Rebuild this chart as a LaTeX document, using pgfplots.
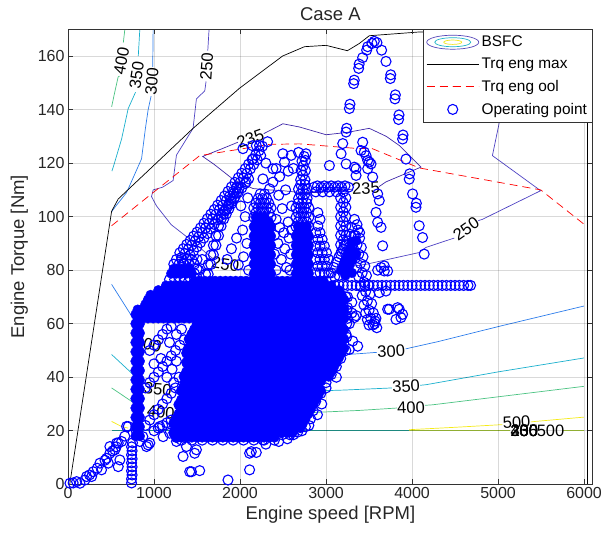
\documentclass[border=0pt]{standalone}
\usepackage{fontspec}
\setmainfont{Liberation Sans}
\usepackage{pgfplots}
\pgfplotsset{compat=1.18}
\definecolor{cA}{RGB}{62,38,168}
\definecolor{cB}{RGB}{78,66,195}
\definecolor{cC}{RGB}{45,125,235}
\definecolor{cD}{RGB}{25,175,205}
\definecolor{cE}{RGB}{75,195,130}
\definecolor{cF}{RGB}{245,235,25}
\definecolor{cG}{RGB}{35,160,150}
\definecolor{cH}{RGB}{170,205,60}
\definecolor{legP}{RGB}{85,70,185}
\definecolor{legC}{RGB}{30,180,200}
\definecolor{legY}{RGB}{240,230,30}
\tikzset{lab/.style={font=\fontsize{16.5bp}{18bp}\selectfont, inner sep=0pt, text=black}}
\begin{document}
\begin{tikzpicture}
\begin{axis}[
 name=ax,
 scale only axis, width=524.7bp, height=455bp,
 xmin=0, xmax=6100, ymin=0, ymax=170,
 xtick={0,1000,...,6000}, ytick={0,20,...,160},
 /pgf/number format/set thousands separator={},
 /pgf/number format/assume math mode=true,
 tick label style={font=\fontsize{16bp}{19bp}\selectfont, text=black!85},
 label style={font=\fontsize{18.5bp}{22bp}\selectfont, text=black!85},
 ylabel style={yshift=3bp},
 title style={font=\fontsize{18.5bp}{22bp}\selectfont, text=black!85, yshift=-1bp},
 title={Case A},
 xlabel={Engine speed [RPM]}, ylabel={Engine Torque [Nm]},
 axis on top,
 grid=major, major grid style={line width=0.6bp, draw=black, draw opacity=0.15},
 axis line style={line width=0.6bp, draw=black!80},
 tick style={line width=0.6bp, draw=black!80},
 major tick length=5bp, tick align=inside,
 legend style={at={(1,1)}, anchor=north east, font=\fontsize{15.4bp}{17bp}\selectfont,
   draw=black!80, line width=0.6bp, fill=white, inner xsep=3bp, inner ysep=1.5bp,
   row sep=0bp, nodes={inner ysep=5bp, inner xsep=2.5bp}},
 legend cell align=left,
 legend image code/.code={\draw[mark repeat=2,mark phase=2,#1] plot coordinates {(0bp,0bp) (26bp,0bp) (52bp,0bp)};},
]
% ---------- BSFC contours ----------
\addplot[cB, line width=0.7bp, legend image code/.code={
  \draw[legP, line width=0.7bp] (26bp,0bp) ellipse [x radius=26bp, y radius=7bp];
  \draw[legC, line width=0.7bp] (26bp,0bp) ellipse [x radius=18bp, y radius=4.5bp];
  \draw[legY, line width=0.7bp] (26bp,0bp) ellipse [x radius=9bp, y radius=2.2bp];}]
 coordinates {(1640,170)(1625,162)};
\addlegendentry{BSFC}
\addplot[cB, line width=0.7bp, forget plot] coordinates {(1605,150.5)(1590,147)(1493,144)(1454,133)(1261,123)(1222,113.5)(1100,111)(990,110)(971,107.5)(1029,104)(1200,97)(1415,91.6)(1647,85.3)(1700,84)};
\addplot[cB, line width=0.7bp, forget plot] coordinates {(1960,80)(2053,80.4)(2500,80)(3000,80)(3465,82.2)(4083,86.6)(4161,88.5)(4490,92)};
\addplot[cB, line width=0.7bp, forget plot] coordinates {(4770,98.5)(4818,99)(5495,109.7)(4934,122.8)(5031,137.8)(5060,150)(5100,170)};
\addplot[cA, line width=0.7bp, forget plot] coordinates {(1975,127.8)(1800,125.5)(1566,122.5)(1700,119.5)(1918,114)(2150,110.5)(2343,110)(2498,109.7)(2700,109)(2900,109)(3100,109.5)(3310,110.3)};
\addplot[cA, line width=0.7bp, forget plot] coordinates {(2275,131)(2498,134.7)(2691,133.5)(3001,130.6)(3250,131.5)(3503,133)(3700,130)(3851,126.6)(4103,118.5)(3697,113)(3615,111.2)};
\addplot[cC, line width=0.7bp, forget plot] coordinates {(990,170)(985,156)};
\addplot[cC, line width=0.7bp, forget plot] coordinates {(966,145)(932,140)(900,133)(855,121.6)(681,109)(545,103.5)(507,101.8)};
\addplot[cC, line width=0.7bp, forget plot] coordinates {(507,74.7)(777,61)(830,59)};
\addplot[cC, line width=0.7bp, forget plot] coordinates {(3250,48.5)(3425,48.9)(3590,49.3)};
\addplot[cC, line width=0.7bp, forget plot] coordinates {(3925,50.6)(4300,53.3)(5011,59)(5998,66.6)};
\addplot[cD, line width=0.7bp, forget plot] coordinates {(835,170)(817,160)};
\addplot[cD, line width=0.7bp, forget plot] coordinates {(785,146.5)(700,140.4)(623,129)(526,118.5)(510,117)};
\addplot[cD, line width=0.7bp, forget plot] coordinates {(507,48.5)(758,41)(830,39)};
\addplot[cD, line width=0.7bp, forget plot] coordinates {(2691,34.7)(3200,35.2)(3765,36)};
\addplot[cD, line width=0.7bp, forget plot] coordinates {(4095,37)(4161,37.2)(5000,42)(5998,47.2)};
\addplot[cE, line width=0.7bp, forget plot] coordinates {(661,170)(643,165)};
\addplot[cE, line width=0.7bp, forget plot] coordinates {(598,152.5)(583,152.2)(540,146)(507,141)};
\addplot[cE, line width=0.7bp, forget plot] coordinates {(507,36)(739,31)(800,30)};
\addplot[cE, line width=0.7bp, forget plot] coordinates {(2691,26.6)(3387,27.6)(3825,28.5)};
\addplot[cE, line width=0.7bp, forget plot] coordinates {(4150,29.5)(4238,29.7)(5998,36.6)};
\addplot[cG, line width=0.9bp, forget plot] coordinates {(507,20)(3967,20)};
\addplot[cH, line width=0.9bp, forget plot] coordinates {(3967,20)(5135,20)};
\addplot[cH, line width=0.9bp, forget plot] coordinates {(5742,20)(5998,20)};
\addplot[cF, line width=0.7bp, forget plot] coordinates {(507,23.5)(623,21.6)(700,21)};
\addplot[cF, line width=0.7bp, forget plot] coordinates {(3967,20.4)(4500,21.3)(5050,22.3)};
\addplot[cF, line width=0.7bp, forget plot] coordinates {(5380,23.3)(5437,23.5)(5998,25.1)};
% contour labels
\node[lab, rotate=80] at (axis cs:621,158) {400};
\node[lab, rotate=82] at (axis cs:799,153) {350};
\node[lab, rotate=85] at (axis cs:975,150.5) {300};
\node[lab, rotate=86] at (axis cs:1612,156) {250};
\node[lab, rotate=20] at (axis cs:2120,129.2) {235};
\node[lab, rotate=-9] at (axis cs:1830,82.2) {250};
\node[lab, rotate=3] at (axis cs:3463,110.5) {235};
\node[lab, rotate=35] at (axis cs:4628,95.4) {250};
\node[lab, rotate=3] at (axis cs:3757,49.7) {300};
\node[lab, rotate=3] at (axis cs:3930,36.6) {350};
\node[lab, rotate=2] at (axis cs:3988,28.7) {400};
\node[lab, rotate=3] at (axis cs:5215,23.2) {500};
\node[lab] at (axis cs:5305,20) {235};
\node[lab] at (axis cs:5305,20) {250};
\node[lab] at (axis cs:5305,20) {300};
\node[lab] at (axis cs:5305,20) {400};
\node[lab] at (axis cs:5610,20) {500};
\node[lab, rotate=-15] at (axis cs:930,52.5) {300};
\node[lab, rotate=-5] at (axis cs:1045,35.5) {350};
\node[lab, rotate=-5] at (axis cs:1080,27) {400};
\node[lab] at (axis cs:2440,19.8) {300};
% ---------- torque limits ----------
\addplot[black, line width=0.7bp] coordinates {(20,0)(507,102)(584,106.6)(1454,133)(1995,148)(2494,160)(2749,163.5)(3001,164)(3248,162)(3387,164.7)(3503,167.6)(4084,169)(6040,170)(6040,0)};
\addlegendentry{Trq eng max}
\addplot[red, line width=0.7bp, dash pattern=on 8bp off 5bp] coordinates {(507,96.6)(990,109)(1531,122.8)(2343,127)(2691,127.2)(3387,125.4)(3523,125.6)(4084,118.2)(5495,110)(5998,97.2)};
\addlegendentry{Trq eng ool}
% ---------- operating points: dense core (overlapping circles, drawn solid) ----------
\addplot[blue, only marks, mark=*, mark size=4.9bp, mark options={draw=blue, fill=blue}, forget plot] coordinates {
(1260,17.5)(1320,17.5)(1380,17.5)(1440,17.5)(1500,17.5)(1560,17.5)(1620,17.5)(1680,17.5)(1740,17.5)(1800,17.5)(1860,17.5)(1920,17.5)(1980,17.5)(2040,17.5)(2100,17.5)(2160,17.5)(2220,17.5)(2280,17.5)(2340,17.5)(2400,17.5)
(1230,19.25)(1290,19.25)(1350,19.25)(1410,19.25)(1470,19.25)(1530,19.25)(1590,19.25)(1650,19.25)(1710,19.25)(1770,19.25)(1830,19.25)(1890,19.25)(1950,19.25)(2010,19.25)(2070,19.25)(2130,19.25)(2190,19.25)(2250,19.25)(2310,19.25)(2370,19.25)(2430,19.25)(2490,19.25)(2550,19.25)(2610,19.25)
(1260,21)(1320,21)(1380,21)(1440,21)(1500,21)(1560,21)(1620,21)(1680,21)(1740,21)(1800,21)(1860,21)(1920,21)(1980,21)(2040,21)(2100,21)(2160,21)(2220,21)(2280,21)(2340,21)(2400,21)(2460,21)(2520,21)(2580,21)(2640,21)(2700,21)
(1230,22.75)(1290,22.75)(1350,22.75)(1410,22.75)(1470,22.75)(1530,22.75)(1590,22.75)(1650,22.75)(1710,22.75)(1770,22.75)(1830,22.75)(1890,22.75)(1950,22.75)(2010,22.75)(2070,22.75)(2130,22.75)(2190,22.75)(2250,22.75)(2310,22.75)(2370,22.75)(2430,22.75)(2490,22.75)(2550,22.75)(2610,22.75)(2670,22.75)(2730,22.75)
(1260,24.5)(1320,24.5)(1380,24.5)(1440,24.5)(1500,24.5)(1560,24.5)(1620,24.5)(1680,24.5)(1740,24.5)(1800,24.5)(1860,24.5)(1920,24.5)(1980,24.5)(2040,24.5)(2100,24.5)(2160,24.5)(2220,24.5)(2280,24.5)(2340,24.5)(2400,24.5)(2460,24.5)(2520,24.5)(2580,24.5)(2640,24.5)(2700,24.5)(2760,24.5)
(1290,26.25)(1350,26.25)(1410,26.25)(1470,26.25)(1530,26.25)(1590,26.25)(1650,26.25)(1710,26.25)(1770,26.25)(1830,26.25)(1890,26.25)(1950,26.25)(2010,26.25)(2070,26.25)(2130,26.25)(2190,26.25)(2250,26.25)(2310,26.25)(2370,26.25)(2430,26.25)(2490,26.25)(2550,26.25)(2610,26.25)(2670,26.25)(2730,26.25)(2790,26.25)
(1320,28)(1380,28)(1440,28)(1500,28)(1560,28)(1620,28)(1680,28)(1740,28)(1800,28)(1860,28)(1920,28)(1980,28)(2040,28)(2100,28)(2160,28)(2220,28)(2280,28)(2340,28)(2400,28)(2460,28)(2520,28)(2580,28)(2640,28)(2700,28)(2760,28)(2820,28)
(1290,29.75)(1350,29.75)(1410,29.75)(1470,29.75)(1530,29.75)(1590,29.75)(1650,29.75)(1710,29.75)(1770,29.75)(1830,29.75)(1890,29.75)(1950,29.75)(2010,29.75)(2070,29.75)(2130,29.75)(2190,29.75)(2250,29.75)(2310,29.75)(2370,29.75)(2430,29.75)(2490,29.75)(2550,29.75)(2610,29.75)(2670,29.75)(2730,29.75)(2790,29.75)(2850,29.75)
(1320,31.5)(1380,31.5)(1440,31.5)(1500,31.5)(1560,31.5)(1620,31.5)(1680,31.5)(1740,31.5)(1800,31.5)(1860,31.5)(1920,31.5)(1980,31.5)(2040,31.5)(2100,31.5)(2160,31.5)(2220,31.5)(2280,31.5)(2340,31.5)(2400,31.5)(2460,31.5)(2520,31.5)(2580,31.5)(2640,31.5)(2700,31.5)(2760,31.5)(2820,31.5)(2880,31.5)
(1350,33.25)(1410,33.25)(1470,33.25)(1530,33.25)(1590,33.25)(1650,33.25)(1710,33.25)(1770,33.25)(1830,33.25)(1890,33.25)(1950,33.25)(2010,33.25)(2070,33.25)(2130,33.25)(2190,33.25)(2250,33.25)(2310,33.25)(2370,33.25)(2430,33.25)(2490,33.25)(2550,33.25)(2610,33.25)(2670,33.25)(2730,33.25)(2790,33.25)(2850,33.25)(2910,33.25)
(1320,35)(1380,35)(1440,35)(1500,35)(1560,35)(1620,35)(1680,35)(1740,35)(1800,35)(1860,35)(1920,35)(1980,35)(2040,35)(2100,35)(2160,35)(2220,35)(2280,35)(2340,35)(2400,35)(2460,35)(2520,35)(2580,35)(2640,35)(2700,35)(2760,35)(2820,35)(2880,35)(2940,35)
(1350,36.75)(1410,36.75)(1470,36.75)(1530,36.75)(1590,36.75)(1650,36.75)(1710,36.75)(1770,36.75)(1830,36.75)(1890,36.75)(1950,36.75)(2010,36.75)(2070,36.75)(2130,36.75)(2190,36.75)(2250,36.75)(2310,36.75)(2370,36.75)(2430,36.75)(2490,36.75)(2550,36.75)(2610,36.75)(2670,36.75)(2730,36.75)(2790,36.75)(2850,36.75)(2910,36.75)
(1380,38.5)(1440,38.5)(1500,38.5)(1560,38.5)(1620,38.5)(1680,38.5)(1740,38.5)(1800,38.5)(1860,38.5)(1920,38.5)(1980,38.5)(2040,38.5)(2100,38.5)(2160,38.5)(2220,38.5)(2280,38.5)(2340,38.5)(2400,38.5)(2460,38.5)(2520,38.5)(2580,38.5)(2640,38.5)(2700,38.5)(2760,38.5)(2820,38.5)(2880,38.5)(2940,38.5)
(1350,40.25)(1410,40.25)(1470,40.25)(1530,40.25)(1590,40.25)(1650,40.25)(1710,40.25)(1770,40.25)(1830,40.25)(1890,40.25)(1950,40.25)(2010,40.25)(2070,40.25)(2130,40.25)(2190,40.25)(2250,40.25)(2310,40.25)(2370,40.25)(2430,40.25)(2490,40.25)(2550,40.25)(2610,40.25)(2670,40.25)(2730,40.25)(2790,40.25)(2850,40.25)(2910,40.25)(2970,40.25)(3030,40.25)
(1380,42)(1440,42)(1500,42)(1560,42)(1620,42)(1680,42)(1740,42)(1800,42)(1860,42)(1920,42)(1980,42)(2040,42)(2100,42)(2160,42)(2220,42)(2280,42)(2340,42)(2400,42)(2460,42)(2520,42)(2580,42)(2640,42)(2700,42)(2760,42)(2820,42)(2880,42)(2940,42)(3000,42)(3060,42)
(1410,43.75)(1470,43.75)(1530,43.75)(1590,43.75)(1650,43.75)(1710,43.75)(1770,43.75)(1830,43.75)(1890,43.75)(1950,43.75)(2010,43.75)(2070,43.75)(2130,43.75)(2190,43.75)(2250,43.75)(2310,43.75)(2370,43.75)(2430,43.75)(2490,43.75)(2550,43.75)(2610,43.75)(2670,43.75)(2730,43.75)(2790,43.75)(2850,43.75)(2910,43.75)(2970,43.75)(3030,43.75)(3090,43.75)
(1380,45.5)(1440,45.5)(1500,45.5)(1560,45.5)(1620,45.5)(1680,45.5)(1740,45.5)(1800,45.5)(1860,45.5)(1920,45.5)(1980,45.5)(2040,45.5)(2100,45.5)(2160,45.5)(2220,45.5)(2280,45.5)(2340,45.5)(2400,45.5)(2460,45.5)(2520,45.5)(2580,45.5)(2640,45.5)(2700,45.5)(2760,45.5)(2820,45.5)(2880,45.5)(2940,45.5)(3000,45.5)(3060,45.5)(3120,45.5)
(1410,47.25)(1470,47.25)(1530,47.25)(1590,47.25)(1650,47.25)(1710,47.25)(1770,47.25)(1830,47.25)(1890,47.25)(1950,47.25)(2010,47.25)(2070,47.25)(2130,47.25)(2190,47.25)(2250,47.25)(2310,47.25)(2370,47.25)(2430,47.25)(2490,47.25)(2550,47.25)(2610,47.25)(2670,47.25)(2730,47.25)(2790,47.25)(2850,47.25)(2910,47.25)(2970,47.25)(3030,47.25)(3090,47.25)(3150,47.25)
(1380,49)(1440,49)(1500,49)(1560,49)(1620,49)(1680,49)(1740,49)(1800,49)(1860,49)(1920,49)(1980,49)(2040,49)(2100,49)(2160,49)(2220,49)(2280,49)(2340,49)(2400,49)(2460,49)(2520,49)(2580,49)(2640,49)(2700,49)(2760,49)(2820,49)(2880,49)(2940,49)(3000,49)(3060,49)(3120,49)(3180,49)
(1410,50.75)(1470,50.75)(1530,50.75)(1590,50.75)(1650,50.75)(1710,50.75)(1770,50.75)(1830,50.75)(1890,50.75)(1950,50.75)(2010,50.75)(2070,50.75)(2130,50.75)(2190,50.75)(2250,50.75)(2310,50.75)(2370,50.75)(2430,50.75)(2490,50.75)(2550,50.75)(2610,50.75)(2670,50.75)(2730,50.75)(2790,50.75)(2850,50.75)(2910,50.75)(2970,50.75)(3030,50.75)(3090,50.75)(3150,50.75)(3210,50.75)
(1440,52.5)(1500,52.5)(1560,52.5)(1620,52.5)(1680,52.5)(1740,52.5)(1800,52.5)(1860,52.5)(1920,52.5)(1980,52.5)(2040,52.5)(2100,52.5)(2160,52.5)(2220,52.5)(2280,52.5)(2340,52.5)(2400,52.5)(2460,52.5)(2520,52.5)(2580,52.5)(2640,52.5)(2700,52.5)(2760,52.5)(2820,52.5)(2880,52.5)(2940,52.5)(3000,52.5)(3060,52.5)(3120,52.5)(3180,52.5)
(1410,54.25)(1470,54.25)(1530,54.25)(1590,54.25)(1650,54.25)(1710,54.25)(1770,54.25)(1830,54.25)(1890,54.25)(1950,54.25)(2010,54.25)(2070,54.25)(2130,54.25)(2190,54.25)(2250,54.25)(2310,54.25)(2370,54.25)(2430,54.25)(2490,54.25)(2550,54.25)(2610,54.25)(2670,54.25)(2730,54.25)(2790,54.25)(2850,54.25)(2910,54.25)(2970,54.25)(3030,54.25)(3090,54.25)(3150,54.25)(3210,54.25)
(1440,56)(1500,56)(1560,56)(1620,56)(1680,56)(1740,56)(1800,56)(1860,56)(1920,56)(1980,56)(2040,56)(2100,56)(2160,56)(2220,56)(2280,56)(2340,56)(2400,56)(2460,56)(2520,56)(2580,56)(2640,56)(2700,56)(2760,56)(2820,56)(2880,56)(2940,56)(3000,56)(3060,56)(3120,56)(3180,56)
(1470,57.75)(1530,57.75)(1590,57.75)(1650,57.75)(1710,57.75)(1770,57.75)(1830,57.75)(1890,57.75)(1950,57.75)(2010,57.75)(2070,57.75)(2130,57.75)(2190,57.75)(2250,57.75)(2310,57.75)(2370,57.75)(2430,57.75)(2490,57.75)(2550,57.75)(2610,57.75)(2670,57.75)(2730,57.75)(2790,57.75)(2850,57.75)(2910,57.75)(2970,57.75)(3030,57.75)(3090,57.75)(3150,57.75)(3210,57.75)
(1500,59.5)(1560,59.5)(1620,59.5)(1680,59.5)(1740,59.5)(1800,59.5)(1860,59.5)(1920,59.5)(1980,59.5)(2040,59.5)(2100,59.5)(2160,59.5)(2220,59.5)(2280,59.5)(2340,59.5)(2400,59.5)(2460,59.5)(2520,59.5)(2580,59.5)(2640,59.5)(2700,59.5)(2760,59.5)(2820,59.5)(2880,59.5)(2940,59.5)(3000,59.5)(3060,59.5)(3120,59.5)(3180,59.5)
(870,62)(930,62)(990,62)(1050,62)(1110,62)(1170,62)(1230,62)(1290,62)(1350,62)(1410,62)(1470,62)(1530,62)(1590,62)(1650,62)(1710,62)(1770,62)(1830,62)(1890,62)(1950,62)(2010,62)(2070,62)(2130,62)(2190,62)(2250,62)(2310,62)(2370,62)(2430,62)(2490,62)(2550,62)(2610,62)(2670,62)(2730,62)(2790,62)(2850,62)(2910,62)(2970,62)(3030,62)(3090,62)(3150,62)(3210,62)
(900,63.75)(960,63.75)(1020,63.75)(1080,63.75)(1140,63.75)(1200,63.75)(1260,63.75)(1320,63.75)(1380,63.75)(1440,63.75)(1500,63.75)(1560,63.75)(1620,63.75)(1680,63.75)(1740,63.75)(1800,63.75)(1860,63.75)(1920,63.75)(1980,63.75)(2040,63.75)(2100,63.75)(2160,63.75)(2220,63.75)(2280,63.75)(2340,63.75)(2400,63.75)(2460,63.75)(2520,63.75)(2580,63.75)(2640,63.75)(2700,63.75)(2760,63.75)(2820,63.75)(2880,63.75)(2940,63.75)(3000,63.75)(3060,63.75)(3120,63.75)(3180,63.75)
(870,65.5)(930,65.5)(990,65.5)(1050,65.5)(1110,65.5)(1170,65.5)(1230,65.5)(1290,65.5)(1350,65.5)(1410,65.5)(1470,65.5)(1530,65.5)(1590,65.5)(1650,65.5)(1710,65.5)(1770,65.5)(1830,65.5)(1890,65.5)(1950,65.5)(2010,65.5)(2070,65.5)(2130,65.5)(2190,65.5)(2250,65.5)(2310,65.5)(2370,65.5)(2430,65.5)(2490,65.5)(2550,65.5)(2610,65.5)(2670,65.5)(2730,65.5)(2790,65.5)(2850,65.5)(2910,65.5)(2970,65.5)(3030,65.5)(3090,65.5)(3150,65.5)(3210,65.5)
(900,67.25)(960,67.25)(1020,67.25)(1080,67.25)(1140,67.25)(1200,67.25)(1260,67.25)(1320,67.25)(1380,67.25)(1440,67.25)(1500,67.25)(1560,67.25)(1620,67.25)(1680,67.25)(1740,67.25)(1800,67.25)(1860,67.25)(1920,67.25)(1980,67.25)(2040,67.25)(2100,67.25)(2160,67.25)(2220,67.25)(2280,67.25)(2340,67.25)(2400,67.25)(2460,67.25)(2520,67.25)(2580,67.25)(2640,67.25)(2700,67.25)(2760,67.25)(2820,67.25)(2880,67.25)(2940,67.25)(3000,67.25)(3060,67.25)(3120,67.25)(3180,67.25)
(930,69)(990,69)(1050,69)(1110,69)(1170,69)(1230,69)(1290,69)(1350,69)(1410,69)(1470,69)(1530,69)(1590,69)(1650,69)(1710,69)(1770,69)(1830,69)(1890,69)(1950,69)(2010,69)(2070,69)(2130,69)(2190,69)(2250,69)(2310,69)(2370,69)(2430,69)(2490,69)(2550,69)(2610,69)(2670,69)(2730,69)(2790,69)(2850,69)(2910,69)(2970,69)(3030,69)(3090,69)(3150,69)(3210,69)
(960,70.75)(1020,70.75)(1080,70.75)(1140,70.75)(1200,70.75)(1260,70.75)(1320,70.75)(1380,70.75)(1440,70.75)(1500,70.75)(1560,70.75)(1620,70.75)(1680,70.75)(1740,70.75)(1800,70.75)(1860,70.75)(1920,70.75)(1980,70.75)(2040,70.75)(2100,70.75)(2160,70.75)(2220,70.75)(2280,70.75)(2340,70.75)(2400,70.75)(2460,70.75)(2520,70.75)(2580,70.75)(2640,70.75)(2700,70.75)(2760,70.75)(2820,70.75)(2880,70.75)(2940,70.75)(3000,70.75)(3060,70.75)(3120,70.75)(3180,70.75)
(1050,72.5)(1110,72.5)(1170,72.5)(1230,72.5)(1290,72.5)(1350,72.5)(1410,72.5)(1470,72.5)(1530,72.5)(1590,72.5)(1650,72.5)(1710,72.5)(1770,72.5)(1830,72.5)(1890,72.5)(1950,72.5)(2010,72.5)(2070,72.5)(2130,72.5)(2190,72.5)(2250,72.5)(2310,72.5)(2370,72.5)(2430,72.5)(2490,72.5)(2550,72.5)(2610,72.5)(2670,72.5)(2730,72.5)(2790,72.5)(2850,72.5)(2910,72.5)(2970,72.5)(3030,72.5)(3090,72.5)(3150,72.5)
(1140,74.25)(1200,74.25)(1260,74.25)(1320,74.25)(1380,74.25)(1440,74.25)(1500,74.25)(1560,74.25)(1620,74.25)(1680,74.25)(1740,74.25)(1800,74.25)(1860,74.25)(1920,74.25)(1980,74.25)(2040,74.25)(2100,74.25)(2160,74.25)(2220,74.25)(2280,74.25)(2340,74.25)(2400,74.25)(2460,74.25)(2520,74.25)(2580,74.25)(2640,74.25)(2700,74.25)(2760,74.25)(2820,74.25)(2880,74.25)(2940,74.25)(3000,74.25)(3060,74.25)
(1470,76)(1530,76)(1590,76)(1650,76)(1710,76)(1770,76)(1830,76)(1890,76)(1950,76)(2010,76)(2070,76)(2130,76)(2190,76)(2250,76)(2310,76)(2370,76)(2430,76)(2490,76)(2550,76)(2610,76)(2670,76)(2730,76)(2790,76)(2850,76)(2910,76)(2970,76)
(785,18)(835,18)(810,19.75)(785,21.5)(835,21.5)(810,23.25)(785,25)(835,25)(810,26.75)(785,28.5)(835,28.5)(810,30.25)(785,32)(835,32)(810,33.75)(785,35.5)(835,35.5)(810,37.25)(785,39)(835,39)(810,40.75)(785,42.5)(835,42.5)(810,44.25)(785,46)(835,46)(810,47.75)(785,49.5)(835,49.5)(810,51.25)(785,53)(835,53)(810,54.75)(785,56.5)(835,56.5)(810,58.25)(785,60)(835,60)(810,61.75)(785,63.5)(835,63.5)(810,65.25)
(2160,78.75)(2210,78.75)(2260,78.75)(2310,78.75)(2360,78.75)(2185,80.5)(2235,80.5)(2285,80.5)(2335,80.5)(2160,82.25)(2210,82.25)(2260,82.25)(2310,82.25)(2360,82.25)(2185,84)(2235,84)(2285,84)(2335,84)(2160,85.75)(2210,85.75)(2260,85.75)(2310,85.75)(2360,85.75)(2185,87.5)(2235,87.5)(2285,87.5)(2335,87.5)(2160,89.25)(2210,89.25)(2260,89.25)(2310,89.25)(2360,89.25)(2185,91)(2235,91)(2285,91)(2335,91)(2160,92.75)(2210,92.75)(2260,92.75)(2310,92.75)(2360,92.75)(2185,94.5)(2235,94.5)(2285,94.5)(2335,94.5)(2160,96.25)(2210,96.25)(2260,96.25)(2310,96.25)(2360,96.25)(2185,98)(2235,98)(2285,98)(2335,98)(2185,99.75)(2235,99.75)(2285,99.75)
(2650,78.75)(2700,78.75)(2750,78.75)(2800,78.75)(2675,80.5)(2725,80.5)(2775,80.5)(2650,82.25)(2700,82.25)(2750,82.25)(2800,82.25)(2675,84)(2725,84)(2775,84)(2650,85.75)(2700,85.75)(2750,85.75)(2800,85.75)(2675,87.5)(2725,87.5)(2775,87.5)(2650,89.25)(2700,89.25)(2750,89.25)(2800,89.25)(2675,91)(2725,91)(2775,91)(2650,92.75)(2700,92.75)(2750,92.75)(2800,92.75)(2675,94.5)(2725,94.5)(2775,94.5)(2675,96.25)(2725,96.25)(2775,96.25)
(1200,78.75)(1260,78.75)(1320,78.75)(1380,78.75)(1440,78.75)(1230,80.5)(1290,80.5)(1350,80.5)(1410,80.5)
(3300,90)(3350,91)(3250,86)(3300,84)(3350,86)(3200,82)(3250,80)(3300,79)(3275,88)(3225,84)(3275,82)(3325,87)(3175,80)(3225,78)
};
% ---------- operating points (legend) ----------
\addplot[blue, only marks, mark=o, mark size=5bp, line width=1.1bp, mark options={line width=1.1bp}] coordinates {
(23,0.4)(60,0.5)(100,1)(139,0.4)(197,1.6)(216,2.9)(250,3.5)(275,2.9)(293,4.7)(340,6)(371,7.9)(390,5.4)(430,9)(449,9.7)(468,7.9)(487,11.6)(487,14.1)(520,12.5)(545,12.9)(560,14)(565,15.4)(584,15.4)(584,6.6)(603,9.1)(623,16)(660,18)(681,21.6)(700,21.6)(797,19.7)(835,16)(870,17.8)(913,14.1)(932,14.7)(951,15.4)(1067,21.6)(1106,17.8)(1183,19.1)(1261,16)(1338,10.4)(1377,14.1)(1415,4.7)(1435,4.7)(1473,11.6)(1493,12.9)(1531,5.1)(1860,1.6)(2111,5.4)(2111,11.6)(2131,12.2)(2189,11.9)(2265,16.6)(2300,15)(2450,16)(2550,17)(2620,18.5)(2720,20)(2800,22)
(739,0.5)(739,2)(745,3.5)(739,5)(745,6.5)(739,8)(745,9.5)(739,11)(745,12.5)(739,14)(750,15.5)
(900,22)(950,24)(1000,26)(1050,28)(1100,30)(1150,32)(1200,34)(1250,36)
(900,36)(950,38)(1000,40)(1050,42)(1100,44)(1150,46)(1200,48)(1250,50)(1300,52)(1350,54)
(950,50)(1000,52)(1050,54)(1100,56)(1150,58)(1200,59)
(1000,20)(1050,21)(1100,22)(1150,23)(1200,24)
(1000,45)(1080,47)(1150,40)(1210,43)(1260,46)(1290,40)(1230,38)(1180,53)(1260,56)(1320,58)
(1260,17.5)(1230,19.25)(1230,22.75)(1260,24.5)(1290,26.25)(1320,28)(1290,29.75)(1320,31.5)(1350,33.25)(1320,35)(1350,36.75)(1380,38.5)(1350,40.25)(1380,42)(1410,43.75)(1380,45.5)(1410,47.25)(1380,49)(1410,50.75)(1440,52.5)(1410,54.25)(1440,56)(1470,57.75)(1500,59.5)
(1320,16.5)(1440,16.5)(1560,16.5)(1680,16.5)(1800,16.5)(1920,16.5)(2040,16.5)(2160,16.5)(2280,16.5)(2400,16.5)(2490,18.5)(2580,18.5)(2670,19.5)(2760,21.5)(2820,24.5)(2850,27.5)(2880,31)(2940,34)(3000,38)(3060,41)(3120,44)(3170,47)(3230,50)(3240,55)(3240,60)(3240,65)(3230,70)
(1230,82.25)(1290,82.25)(1350,82.25)(1410,82.25)(1470,82.25)(1260,84)(1320,84)(1380,84)(1440,84)(1500,84)(1470,78.75)(1500,80.5)
(1300,86.5)(1340,88)(1380,89.6)(1420,91.1)(1460,92.7)(1500,94.2)(1540,95.8)(1580,97.5)(1620,99.2)(1660,100.9)(1700,102.6)(1740,104.3)(1780,106)(1820,107.7)(1860,109.4)(1900,111.1)(1940,112.8)(1980,114.5)(2020,116.2)(2060,117.9)(2100,119.6)(2140,121.3)(2180,123)(2220,124.6)(2260,126.3)
(1320,84.75)(1360,86.25)(1400,87.85)(1440,89.35)(1480,90.95)(1520,92.45)(1560,94.05)(1600,95.75)(1640,97.45)(1680,99.15)(1720,100.85)(1760,102.55)(1800,104.25)(1840,105.95)(1880,107.65)(1920,109.35)(1960,111.05)(2000,112.75)(2040,114.45)(2080,116.15)(2120,117.85)(2160,119.55)(2200,121.25)(2240,122.85)
(1340,82.5)(1380,84.1)(1420,85.6)(1460,87.2)(1500,88.7)(1540,90.3)(1580,92)(1620,93.7)(1660,95.4)(1700,97.1)(1740,98.8)(1780,100.5)(1820,102.2)(1860,103.9)(1900,105.6)(1940,107.3)(1980,109)(2020,110.7)(2060,112.4)(2100,114.1)
(1600,78.5)(1630,82.1)(1660,85.7)(1690,89.3)(1720,92.9)(1750,96.5)(1780,99.1)(1810,101)(1840,102.9)(1870,104.8)(1900,106.8)(1930,108.7)(1960,110.6)
(1630,78.5)(1660,82.1)(1690,85.7)(1720,89.3)(1750,92.9)(1780,96.5)(1810,99.1)(1840,101)(1870,102.9)(1900,104.8)(1930,106.8)(1960,108.7)(1990,110.6)
(2160,99.75)(2360,99.75)(2185,101.5)(2235,101.5)(2285,101.5)(2335,101.5)(2160,103.25)(2210,103.25)(2260,103.25)(2310,103.25)(2360,103.25)(2185,105)(2235,105)(2285,105)(2335,105)(2210,106.75)(2260,106.75)(2310,106.75)(2235,108.5)(2285,108.5)
(2650,96.25)(2800,96.25)(2675,98)(2725,98)(2775,98)(2650,99.75)(2700,99.75)(2750,99.75)(2800,99.75)(2675,101.5)(2725,101.5)(2775,101.5)(2650,103.25)(2700,103.25)(2750,103.25)(2800,103.25)(2675,105)(2725,105)(2775,105)(2680,106.75)(2730,106.75)(2780,106.75)(2705,108.5)(2755,108.5)(2680,110.25)(2730,110.25)(2780,110.25)(2705,112)(2755,112)(2705,113.75)(2755,113.75)(2730,115.5)(2710,117.25)(2760,117.25)(2735,119)(2720,120.75)(2760,121)(2745,122.5)(2767,123.5)
(2420,80)(2480,84)(2540,81)(2590,86)(2440,90)(2510,94)(2570,92)(2420,99)(2490,103)(2560,98)(2450,108)(2530,110)(2600,104)(2400,86)(2460,96)(2580,80)(2520,88)(2400,93)(2600,95)
(2860,111)(2900,111.5)(2940,111)(2980,111.5)(3020,111)(3060,111.5)(3100,111)(3140,111.5)(3180,111)(3220,111.5)(3260,111)(2880,109.25)(2960,109.25)(3040,109.25)(3120,109.25)(3200,109.25)
(3170,86)(3230,86)(3200,87.75)(3170,89.5)(3230,89.5)(3200,91.25)(3170,93)(3230,93)(3200,94.75)(3170,96.5)(3230,96.5)(3200,98.25)(3170,100)(3230,100)(3200,101.75)(3170,103.5)(3230,103.5)(3200,105.25)(3170,107)(3230,107)
(2880,79)(2930,79)(2980,79)(3030,79)(2905,81.5)(2955,81.5)(3005,81.5)(2880,84)(2930,84)(2980,84)(3030,84)(2905,86.5)(2955,86.5)(3005,86.5)(2880,89)(2930,89)(2980,89)(2905,91.5)(2955,91.5)(2880,94)(2930,94)(2905,96.5)(2930,99)(2905,101.5)
(3330,99)(3360,97)(3300,96)(3390,94)(3270,93.5)(3240,91)(3210,89)(3180,87)(3150,85)(3120,83)(3090,81)(3060,79)(3325,93)(3150,78)(3100,77.5)
(3370,95)(3390,92)(3410,88.5)(3430,85)(3450,81.5)(3470,78)(3490,74.5)(3510,71)(3530,67.5)(3550,64)(3570,61)(3590,58.5)
(3340,93)(3360,89.5)(3380,86)(3400,82.5)(3420,79)(3440,75.5)(3460,72)(3480,68.5)(3500,65)(3520,62)(3545,59.5)
(3320,88)(3340,84.5)(3360,81)(3380,77.5)(3400,74)(3420,70.5)(3440,67)(3460,64)(3480,61.5)(3500,59.5)(3565,60)(3580,62)
(3100,74.3)(3150,74.3)(3200,74.3)(3250,74.3)(3300,74.3)(3350,74.3)(3400,74.3)(3450,74.3)(3500,74.3)(3550,74.3)(3600,74.3)(3650,74.3)(3700,74.3)(3750,74.3)(3800,74.3)(3850,74.3)(3900,74.3)(3950,74.3)(4000,74.3)(4050,74.3)(4100,74.3)(4150,74.3)(4200,74.3)(4250,74.3)(4300,74.3)(4350,74.3)(4400,74.3)(4450,74.3)(4500,74.3)(4550,74.3)(4600,74.3)(4650,74.3)(4680,74.3)
(3250,70)(3300,68)(3250,66)(3300,64)(3270,60)(3230,63)
(3600,80)(3639,81)(3677,79.7)(3716,79.7)(3716,65.4)(3735,65.4)(3832,66)(3851,65.4)(3871,62.3)(3813,61.6)(3890,63.5)(3619,71.6)(3697,72.2)(3329,62.3)(3310,53.5)(3368,51.6)(3271,50.4)(3194,57.9)(3233,56)(3078,45.4)(3039,41.6)(2962,44.7)(2846,31.6)(3600,97.9)(3639,96)(3658,89.1)(3677,81.6)(3600,108.5)(3619,106)(3581,101.6)(3542,114.8)(3350,63)(3250,62)(3120,40)(3000,36)(2950,30)(2900,26)
(3175,123.5)(3194,127.3)(3233,131.6)(3240,133)(3271,140.4)(3278,142)(3321,149.7)(3328,151)(3379,155.4)(3385,157)(3425,159.4)(3472,162.2)(3484,163.5)(3534,164.7)(3592,165)(3561,165.5)(3646,162.2)(3697,158)(3747,151.6)(3752,153)(3801,144)(3806,145.5)(3843,136.3)(3848,138)(3890,129)(3895,130.5)(3929,121.5)(3967,114)(3972,116)(4006,108.5)(4045,103.5)(4050,105)(4083,96.6)(4122,92.2)(4141,86)
(3407,124.7)(3465,122.8)(3503,120.4)(3523,119.7)(3484,117.9)(3349,117.9)(3426,127.8)(3445,124.1)(3484,121)(3329,118.5)(3349,115.4)(3233,119.7)(3039,119.1)
(2034,125.4)(2150,121.6)(2227,126.6)(2382,117.9)(2498,123.5)(2517,120.4)(2595,122.9)(2382,112.9)(2343,110.4)(2073,112.9)(2266,114.1)(2146,126.5)(2190,126.5)(2320,128)(2420,118)(2460,115)(2680,124)(2560,117)(2620,118)(2300,120)(2090,107)(2060,100)(2030,95)(2080,90)(2040,85)(2100,80)(2010,104)(1960,92)(1900,88)(1850,84)(1980,82)(1560,84)(1520,80)
(1240,76.5)(1300,77)(1360,76.5)(1420,77)(1180,76.5)
};
\addlegendentry{Operating point}
\end{axis}
\pgfresetboundingbox
\path (ax.south west) ++(-68bp,-59.7bp) rectangle ++(606bp,544bp);
\end{tikzpicture}
\end{document}
